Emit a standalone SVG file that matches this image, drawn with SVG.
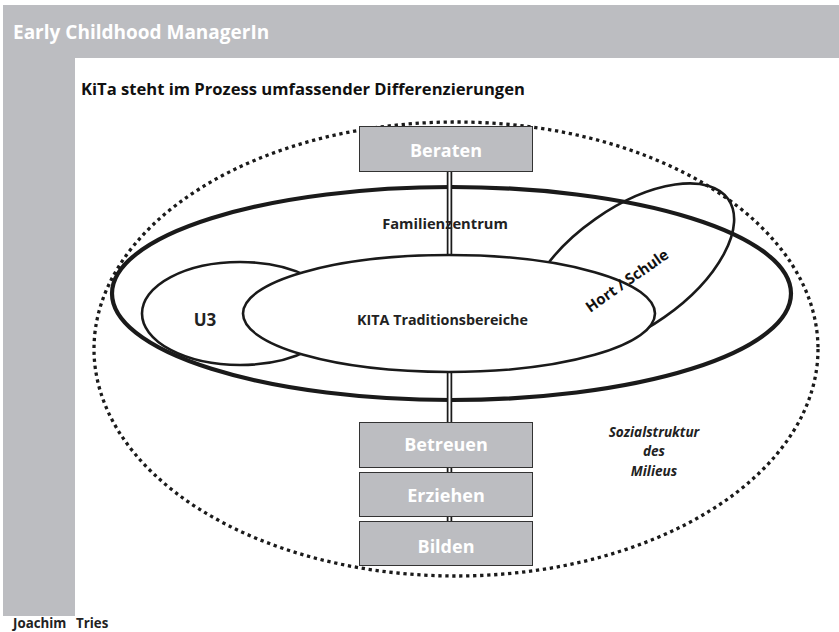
<svg xmlns="http://www.w3.org/2000/svg" width="839" height="632" viewBox="0 0 839 632">
<style>
  .band{fill:#bcbdc1}
  .t{font-family:"Open Sans","Liberation Sans",sans-serif;font-weight:bold}
  .box{fill:#bcbdc1;stroke:#333;stroke-width:1}
  .boxt{fill:#fff;font-size:18px;text-anchor:middle}
  .lbl{fill:#222;text-anchor:middle}
  .ell{fill:#fff;stroke:#1a1a1a;stroke-width:2.6}
</style>
<rect width="839" height="632" fill="#fff"/>
<rect class="band" x="3" y="5" width="836" height="53"/>
<rect class="band" x="3" y="58" width="72" height="558"/>
<text class="t" x="13" y="39" font-size="19" fill="#fff">Early Childhood ManagerIn</text>
<text class="t" x="81" y="95" font-size="16.6" fill="#111">KiTa steht im Prozess umfassender Differenzierungen</text>
<text class="t" x="13" y="628" font-size="13.3" fill="#222">Joachim</text>
<text class="t" x="76" y="628" font-size="13.3" fill="#222">Tries</text>

<g id="milieu">
  <ellipse cx="456" cy="349" rx="362" ry="227" fill="none" stroke="#1a1a1a" stroke-width="3.3" stroke-dasharray="3.3 3.7"/>
  <text class="t" font-style="italic" font-size="13.6" fill="#222" text-anchor="middle"><tspan x="654" y="437">Sozialstruktur</tspan><tspan x="654" y="456">des</tspan><tspan x="654" y="476">Milieus</tspan></text>
</g>
<g id="familienzentrum">
  <ellipse cx="451.5" cy="293.5" rx="339.5" ry="106.5" fill="none" stroke="#1a1a1a" stroke-width="4.2"/>
</g>
<g id="connectors">
  <line x1="449.5" y1="172" x2="449.5" y2="521" stroke="#1a1a1a" stroke-width="5.5"/>
  <line x1="449.5" y1="172" x2="449.5" y2="521" stroke="#fff" stroke-width="2"/>
</g>
<g id="familienzentrum-label">
  <text class="t lbl" x="445" y="229" font-size="14.7">Familienzentrum</text>
</g>
<g id="hort">
  <ellipse cx="630" cy="268" rx="120" ry="60" transform="rotate(-35 630 268)" fill="none" stroke="#1a1a1a" stroke-width="2.6"/>
</g>
<g id="u3">
  <ellipse class="ell" cx="240" cy="313.5" rx="98" ry="51.5"/>
  <text class="t lbl" x="205" y="326" font-size="17">U3</text>
</g>
<g id="kita">
  <ellipse class="ell" cx="449" cy="313.5" rx="206" ry="58.5"/>
  <text class="t lbl" x="442.5" y="325" font-size="14.3">KITA Traditionsbereiche</text>
</g>
<g id="hort-label">
  <text class="t" font-size="15" fill="#111" text-anchor="middle" transform="translate(630 285) rotate(-35)">Hort / Schule</text>
</g>
<g id="beraten">
  <rect class="box" x="359.5" y="126.5" width="173" height="45"/>
  <text class="t boxt" x="446" y="157">Beraten</text>
</g>
<g id="betreuen">
  <rect class="box" x="359.5" y="422.5" width="173" height="45"/>
  <text class="t boxt" x="446" y="451">Betreuen</text>
</g>
<g id="erziehen">
  <rect class="box" x="359.5" y="472.5" width="173" height="44"/>
  <text class="t boxt" x="446" y="502">Erziehen</text>
</g>
<g id="bilden">
  <rect class="box" x="359.5" y="521.5" width="173" height="44"/>
  <text class="t boxt" x="446" y="553">Bilden</text>
</g>
</svg>
